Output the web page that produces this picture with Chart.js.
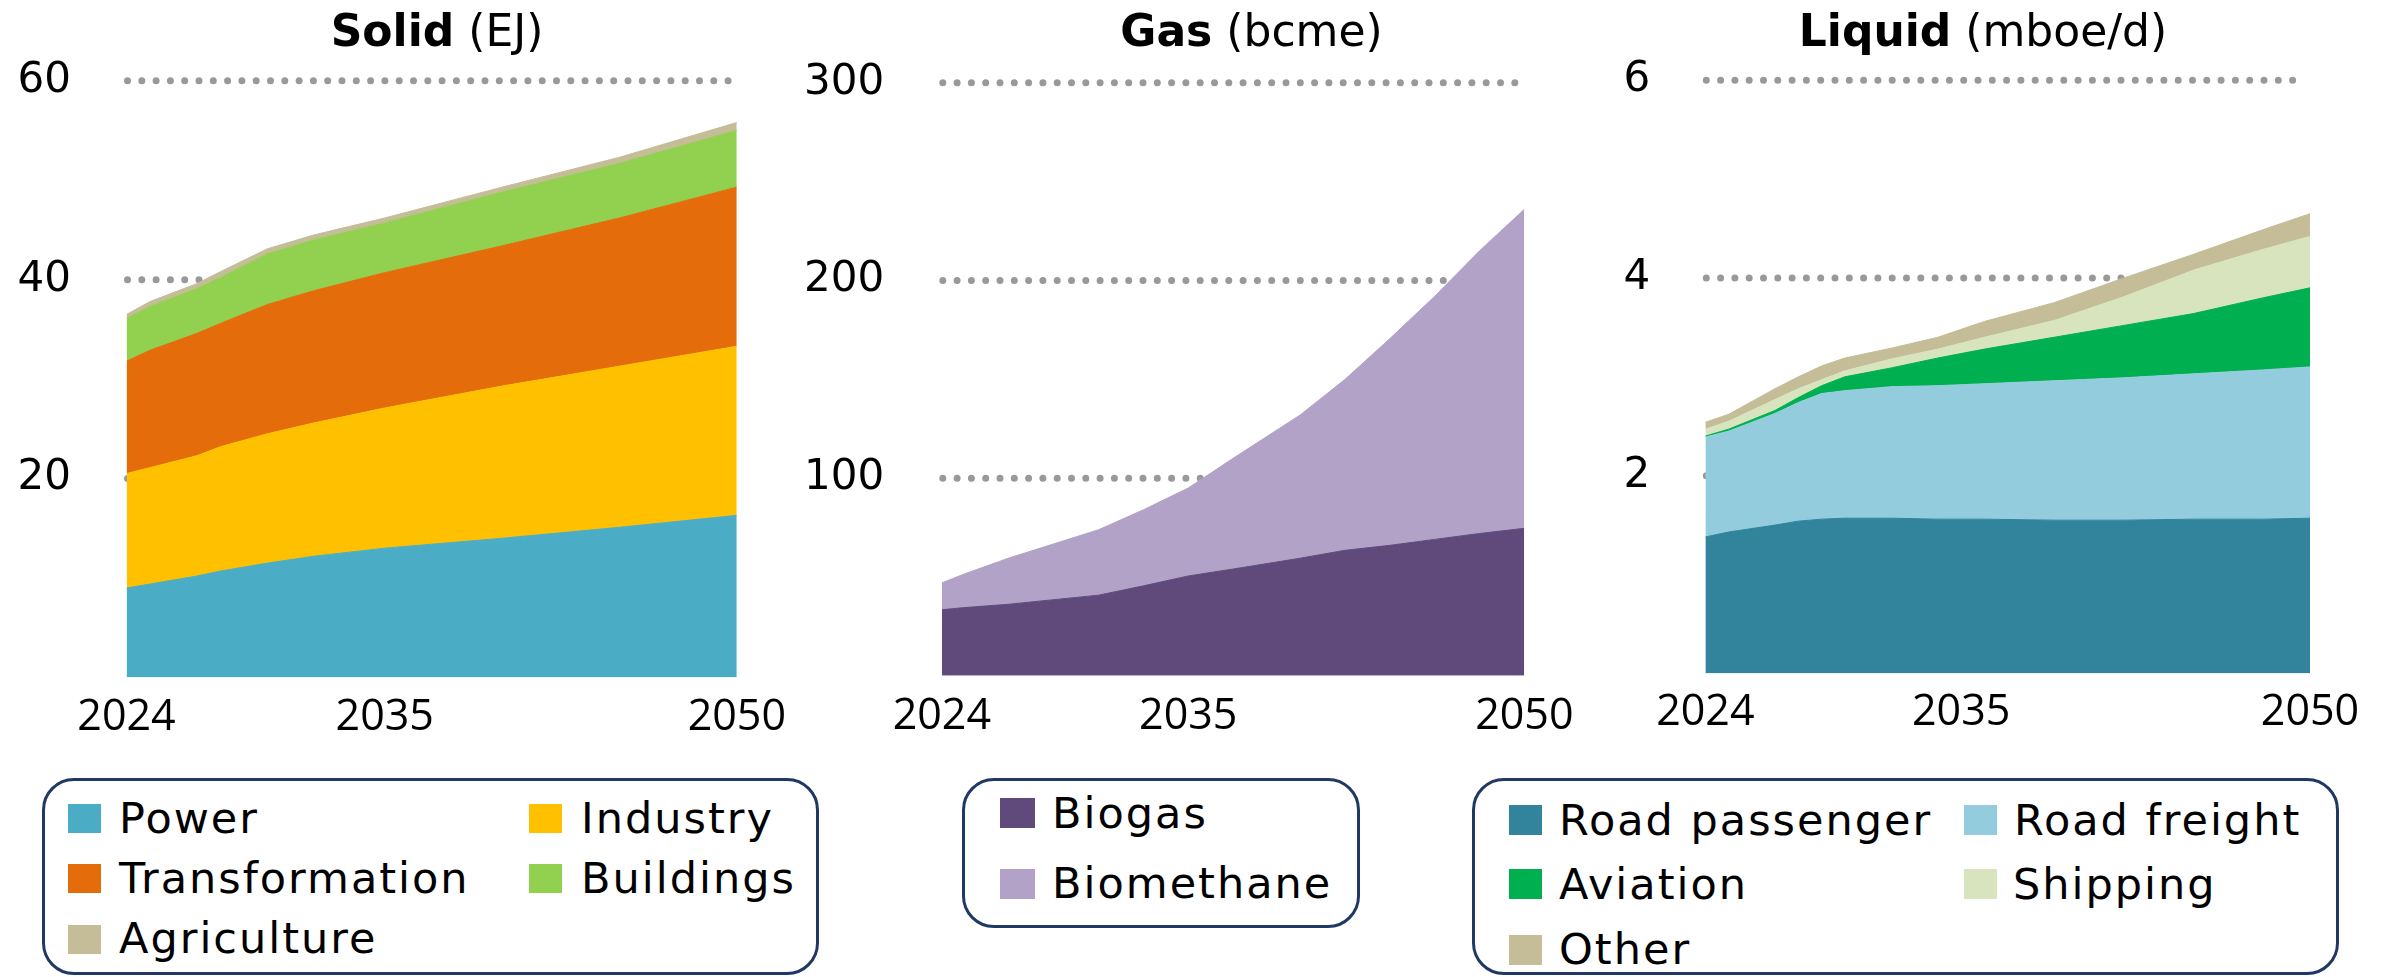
<!DOCTYPE html>
<html><head><meta charset="utf-8">
<script src="https://cdn.jsdelivr.net/npm/chart.js@4.4.0/dist/chart.umd.min.js"></script>
<style>
html,body{margin:0;padding:0;background:#fff;}
#wrap{position:relative;width:2389px;height:977px;overflow:hidden;background:#fff;}
canvas{position:absolute;top:0;}
.box{position:absolute;box-sizing:border-box;border:3px solid #1F3864;border-radius:32px;}
.sq{position:absolute;}
.lt{position:absolute;font-family:"DejaVu Sans";font-size:43px;letter-spacing:2px;line-height:43px;white-space:nowrap;color:#000;}
</style></head>
<body><div id="wrap">
<canvas id="cSolid" width="800" height="760" style="left:0px"></canvas>
<canvas id="cGas" width="789" height="760" style="left:800px"></canvas>
<canvas id="cLiquid" width="800" height="760" style="left:1589px"></canvas>
</div>
<script>
// ---------------- DATA ----------------
const xTickYears = [2024, 2035, 2050];

// Solid (EJ)
const solidYears = [2024, 2025, 2027, 2028, 2030, 2032, 2035, 2040, 2045, 2050];
const solidPower          = [9.0, 9.4, 10.2, 10.7, 11.5, 12.2, 13.0, 14.0, 15.1, 16.3];
const solidIndustry       = [11.5, 11.7, 12.1, 12.5, 13.0, 13.4, 14.1, 15.3, 16.2, 17.0];
const solidTransformation = [11.3, 11.8, 12.3, 12.4, 13.0, 13.3, 13.6, 14.1, 14.9, 16.0];
const solidBuildings      = [4.3, 4.4, 4.5, 4.6, 5.1, 5.1, 5.0, 5.4, 5.5, 5.7];
const solidAgriculture    = [0.4, 0.5, 0.5, 0.6, 0.5, 0.5, 0.5, 0.5, 0.6, 0.8];
const solidNames  = ['Power', 'Industry', 'Transformation', 'Buildings', 'Agriculture'];
const solidColors = ['#4BACC6', '#FFC000', '#E46C0A', '#92D050', '#C4BD97'];
const solidTicks  = [0, 20, 40, 60];

// Gas (bcme)
const gasYears = [2024, 2025, 2027, 2031, 2033, 2035, 2037, 2040, 2042, 2044, 2046, 2048, 2050];
const gasBiogas     = [33.4, 34.5, 36.2, 40.8, 45.5, 50.5, 54.0, 59.5, 63.5, 66.0, 69.0, 72.0, 74.6];
const gasBiomethane = [13.6, 17.0, 23.4, 33.1, 38.5, 44.5, 56.0, 72.5, 86.5, 104.6, 123.0, 143.0, 161.4];
const gasNames  = ['Biogas', 'Biomethane'];
const gasColors = ['#604A7B', '#B3A2C7'];
const gasTicks  = [0, 100, 200, 300];

// Liquid (mboe/d)
const liqYears = [2024, 2025, 2027, 2028, 2029, 2030, 2032, 2034, 2036, 2039, 2042, 2045, 2048, 2050];
const liqRoadPassenger = [1.38, 1.43, 1.50, 1.54, 1.56, 1.57, 1.57, 1.56, 1.56, 1.55, 1.55, 1.56, 1.56, 1.57];
const liqRoadFreight   = [1.01, 1.02, 1.13, 1.20, 1.27, 1.29, 1.33, 1.35, 1.37, 1.41, 1.44, 1.47, 1.51, 1.53];
const liqAviation      = [0.01, 0.02, 0.03, 0.05, 0.08, 0.14, 0.19, 0.28, 0.35, 0.44, 0.53, 0.61, 0.73, 0.80];
const liqShipping      = [0.07, 0.08, 0.11, 0.09, 0.06, 0.06, 0.09, 0.09, 0.12, 0.17, 0.29, 0.44, 0.49, 0.52];
const liqOther         = [0.07, 0.07, 0.11, 0.12, 0.14, 0.13, 0.11, 0.12, 0.16, 0.18, 0.19, 0.16, 0.20, 0.23];
const liqNames  = ['Road passenger', 'Road freight', 'Aviation', 'Shipping', 'Other'];
const liqColors = ['#31849B', '#93CDDD', '#00B050', '#D7E4BD', '#C4BD97'];
const liqTicks  = [0, 2, 4, 6];

// ---------------- PLUGINS ----------------
const titlePlugin = {
  id: 'titleMixed',
  afterDraw(chart, args, o) {
    const ctx = chart.ctx;
    ctx.save();
    const fb = 'bold ' + o.size + 'px "DejaVu Sans"';
    const fn = o.size + 'px "DejaVu Sans"';
    ctx.font = fb; const wb = ctx.measureText(o.bold).width;
    ctx.font = fn; const wn = ctx.measureText(o.normal).width;
    let x = o.cx - (wb + wn) / 2;
    ctx.fillStyle = '#000';
    ctx.textBaseline = 'alphabetic';
    ctx.textAlign = 'left';
    ctx.font = fb; ctx.fillText(o.bold, x, o.baseline);
    ctx.font = fn; ctx.fillText(o.normal, x + wb, o.baseline);
    ctx.restore();
  }
};
const gridPlugin = {
  id: 'dotGrid',
  beforeDatasetsDraw(chart, args, o) {
    const ctx = chart.ctx, ys = chart.scales.y, a = chart.chartArea;
    ctx.save();
    ctx.strokeStyle = '#999999';
    ctx.lineWidth = 7;
    ctx.lineCap = 'round';
    ctx.setLineDash([0, 14.3]);
    ys.ticks.forEach(t => {
      if (t.value === 0) return;
      const y = ys.getPixelForValue(t.value);
      ctx.beginPath();
      ctx.moveTo(a.left + 1, y);
      ctx.lineTo(a.right - 6, y);
      ctx.stroke();
    });
    ctx.restore();
  }
};

// ---------------- CHARTS ----------------
function makeChart(id, opt) {
  const canvas = document.getElementById(id);
  const ds = opt.series.map((vals, i) => ({
    label: opt.names[i],
    data: opt.years.map((yr, j) => ({x: yr, y: vals[j]})),
    backgroundColor: opt.colors[i],
    borderColor: opt.colors[i],
    borderWidth: 1,
    pointRadius: 0,
    pointHoverRadius: 0,
    fill: i === 0 ? 'origin' : '-1',
    tension: 0
  }));
  return new Chart(canvas, {
    type: 'line',
    data: {datasets: ds},
    options: {
      responsive: false, animation: false, devicePixelRatio: 1,
      events: [],
      layout: {autoPadding: false, padding: {left: 0, top: opt.plotTop, right: canvas.width - opt.plotRight, bottom: 0}},
      plugins: {
        legend: {display: false}, tooltip: {enabled: false}, title: {display: false},
        titleMixed: opt.title,
        dotGrid: {}
      },
      scales: {
        x: {
          type: 'linear', min: 2024, max: 2050,
          afterBuildTicks: s => { s.ticks = xTickYears.map(v => ({value: v})); },
          afterFit: s => { s.height = canvas.height - opt.plotBottom; },
          ticks: {font: {family: 'Open Sans', size: 43}, color: '#000', padding: opt.xPad,
                  maxRotation: 0, minRotation: 0, autoSkip: false, callback: v => String(v)},
          grid: {display: false, drawTicks: false}, border: {display: false}
        },
        y: {
          type: 'linear', stacked: true, min: 0, max: opt.ticks[opt.ticks.length - 1],
          afterBuildTicks: s => { s.ticks = opt.ticks.map(v => ({value: v})); },
          afterFit: s => { s.width = opt.plotLeft; },
          ticks: {font: {family: 'DejaVu Sans', size: 42}, color: '#000', padding: opt.yPad,
                  callback: v => v === 0 ? '' : String(v)},
          grid: {display: false, drawTicks: false}, border: {display: false}
        }
      }
    },
    plugins: [titlePlugin, gridPlugin]
  });
}

makeChart('cSolid', {
  years: solidYears,
  series: [solidPower, solidIndustry, solidTransformation, solidBuildings, solidAgriculture],
  names: solidNames, colors: solidColors, ticks: solidTicks,
  plotLeft: 126.5, plotRight: 754, plotTop: 76.5, plotBottom: 677.5,
  xPad: 14, yPad: 55.5,
  title: {bold: 'Solid', normal: ' (EJ)', cx: 437, baseline: 46, size: 44}
});
makeChart('cGas', {
  years: gasYears,
  series: [gasBiogas, gasBiomethane],
  names: gasNames, colors: gasColors, ticks: gasTicks,
  plotLeft: 141.8, plotRight: 749, plotTop: 74, plotBottom: 675.8,
  xPad: 15.5, yPad: 57.6,
  title: {bold: 'Gas', normal: ' (bcme)', cx: 451.5, baseline: 46, size: 44}
});
makeChart('cLiquid', {
  years: liqYears,
  series: [liqRoadPassenger, liqRoadFreight, liqAviation, liqShipping, liqOther],
  names: liqNames, colors: liqColors, ticks: liqTicks,
  plotLeft: 116.3, plotRight: 721, plotTop: 75.5, plotBottom: 673.4,
  xPad: 13.5, yPad: 55,
  title: {bold: 'Liquid', normal: ' (mboe/d)', cx: 394, baseline: 46, size: 44}
});

// ---------------- LEGENDS (HTML) ----------------
const wrap = document.getElementById('wrap');
const legendBoxes = [
  {x: 42, y: 778, w: 777, h: 197},
  {x: 962, y: 778, w: 398, h: 150},
  {x: 1472, y: 778, w: 867, h: 197}
];
legendBoxes.forEach(b => {
  const d = document.createElement('div');
  d.className = 'box';
  Object.assign(d.style, {left: b.x + 'px', top: b.y + 'px', width: b.w + 'px', height: b.h + 'px'});
  wrap.appendChild(d);
});
// positions: [sqX, sqY, sqW, sqH, textX, baseline]
const solidLegendPos = [[68, 804, 33, 29, 119, 833], [529, 804, 33, 29, 581, 833], [68, 864, 33, 29, 119, 893], [529, 864, 33, 29, 581, 893], [68, 925, 33, 29, 119, 953]];
const gasLegendPos = [[1000, 798, 35, 30, 1052, 828], [1000, 869, 35, 30, 1052, 898]];
const liqLegendPos = [[1509, 805, 33, 30, 1559, 835], [1964, 805, 33, 30, 2014, 835], [1509, 869, 33, 30, 1559, 899], [1964, 869, 33, 30, 2013, 899], [1509, 935, 33, 30, 1559, 964]];
function addLegend(names, colors, pos) {
  names.forEach((n, i) => {
    const p = pos[i];
    const s = document.createElement('div');
    s.className = 'sq';
    Object.assign(s.style, {left: p[0] + 'px', top: p[1] + 'px', width: p[2] + 'px', height: p[3] + 'px', background: colors[i]});
    wrap.appendChild(s);
    const t = document.createElement('div');
    t.className = 'lt';
    t.textContent = n;
    Object.assign(t.style, {left: p[4] + 'px', top: (p[5] - 36.4) + 'px'});
    wrap.appendChild(t);
  });
}
addLegend(solidNames, solidColors, solidLegendPos);
addLegend(gasNames, gasColors, gasLegendPos);
addLegend(liqNames, liqColors, liqLegendPos);
</script>
</body></html>
